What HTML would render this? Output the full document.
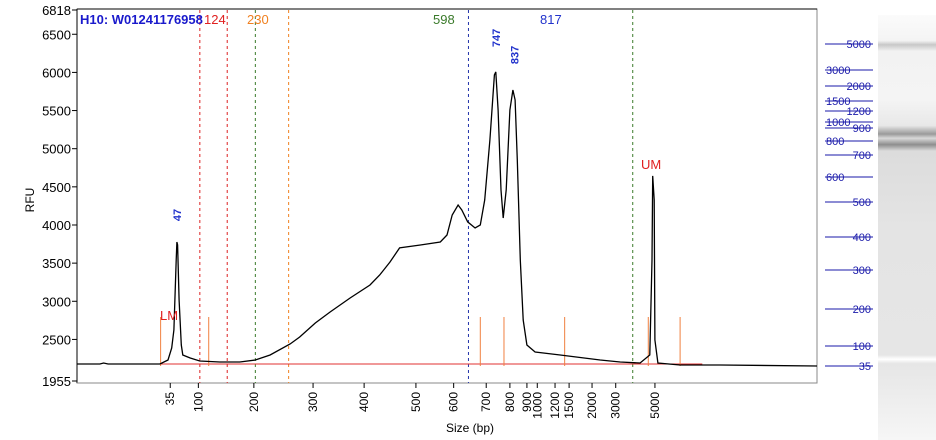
<!DOCTYPE html>
<html><head><meta charset="utf-8"><style>
html,body{margin:0;padding:0;background:#fff;width:936px;height:440px;overflow:hidden}
svg{display:block;font-family:"Liberation Sans",sans-serif}
</style></head><body>
<svg id="c" width="936" height="440">
<defs>
<linearGradient id="gel" x1="0" y1="0" x2="0" y2="1">
<stop offset="0" stop-color="#fbfbfb"/><stop offset="0.06" stop-color="#f4f4f4"/><stop offset="0.07" stop-color="#c8c8c8"/><stop offset="0.085" stop-color="#f2f2f2"/>
<stop offset="0.2" stop-color="#f4f4f4"/><stop offset="0.26" stop-color="#e8e8e8"/><stop offset="0.28" stop-color="#9a9a9a"/><stop offset="0.29" stop-color="#d8d8d8"/><stop offset="0.305" stop-color="#8e8e8e"/><stop offset="0.32" stop-color="#dcdcdc"/>
<stop offset="0.5" stop-color="#e4e4e4"/><stop offset="0.8" stop-color="#e6e6e6"/><stop offset="0.81" stop-color="#ffffff"/><stop offset="0.82" stop-color="#e6e6e6"/><stop offset="1" stop-color="#f6f6f6"/>
</linearGradient></defs>
<rect x="878" y="15" width="58" height="425" fill="url(#gel)"/>
</svg>
<script>
const NS='http://www.w3.org/2000/svg';
const svg=document.getElementById('c');
// data
const migration=[0,3.1,3.6,4.2,11.2,12.3,12.8,13.1,13.4,13.5,13.6,13.8,14.1,14.3,15.3,16.6,19.3,22.0,24.1,26.1,28.8,30.1,32.2,34.2,36.9,39.6,40.9,42.3,43.6,46.4,49.1,50.0,50.7,51.5,52.0,52.8,53.8,54.5,55.1,55.8,56.4,56.6,56.9,57.3,57.6,58.0,58.5,58.9,59.2,59.5,59.9,60.3,60.8,61.9,65.3,70.7,73.4,76.1,77.4,77.7,77.8,78.0,78.1,78.5,81.5,86.9,100];
const rfu=[2178,2178,2191,2178,2178,2230,2388,2624,3541,3777,3738,3017,2427,2296,2257,2217,2204,2204,2230,2296,2440,2532,2715,2860,3043,3214,3345,3515,3699,3738,3777,3869,4131,4262,4197,4040,3961,4000,4328,5115,5967,6006,5508,4459,4092,4459,5508,5770,5639,4852,3541,2755,2427,2335,2296,2230,2204,2191,2296,3541,4643,4328,2493,2191,2165,2165,2152];
const sizeLabels=['35','100','200','300','400','500','600','700','800','900','1000','1200','1500','2000','3000','5000'];
const sizeMig=[12.6,16.4,23.9,31.9,38.8,45.8,50.9,55.3,58.5,60.8,62.2,64.6,66.5,69.6,72.8,78.1];
const yTicks=[6818,6500,6000,5500,5000,4500,4000,3500,3000,2500,1955];
const markerSizes=['5000','3000','2000','1500','1200','1000','900','800','700','600','500','400','300','200','100','35'];
const markerY=[44,70,86,101,111,122,128,141,155,177,202,237,270,309,346,366];
const markerLeft=[0,1,0,1,0,1,0,1,0,1,0,0,0,0,0,0];
const cutMig=[16.6,20.3,24.1,28.6,52.9,75.1];
const cutColors=['#d22','#d22','#3a7a2a','#f08020','#2233aa','#3a7a2a'];
const fragMig=[11.3,17.8,54.5,57.7,65.9,77.2,81.5];
const peakLabels=['47','747','837'];
const peakMig=[13.5,56.6,59.1];
const peakY=[215,38,55];
// axes
const X0=77,X1=817,Y0=10,Y1=381,YMIN=1955,YMAX=6818;
const xs=m=>X0+(X1-X0)*m/100;
const ys=v=>Y1-(v-YMIN)/(YMAX-YMIN)*(Y1-Y0);
function el(t,a,txt){const e=document.createElementNS(NS,t);for(const k in a)e.setAttribute(k,a[k]);if(txt!==undefined)e.textContent=txt;svg.appendChild(e);return e;}
// frame
let e=el('rect',{x:X0,y:9,width:X1-X0,height:374,fill:'none',stroke:'#888'});


e=el('line',{x1:X0,y1:9,x2:X1,y2:9,stroke:'#000'});


e=el('line',{x1:X0,y1:9,x2:X0,y2:383,stroke:'#000'});


e=el('line',{x1:X0,y1:383,x2:X1,y2:383,stroke:'#888'});


yTicks.forEach(v=>{const y=ys(v);
 el('line',{x1:X0-5,y1:y,x2:X0,y2:y,stroke:'#000'});
 e=el('text',{x:X0-6,y:y+5,'text-anchor':'end','font-size':13,fill:'#000'},v);
 
 
});
sizeLabels.forEach((s,i)=>{const x=xs(sizeMig[i]);
 el('line',{x1:x,y1:383,x2:x,y2:388,stroke:'#000'});
 e=el('text',{x:0,y:0,transform:`translate(${x+4},392) rotate(-90)`,'text-anchor':'end','font-size':12,fill:'#000'},s);
 
 
});
e=el('text',{x:470,y:432,'text-anchor':'middle','font-size':12},'Size (bp)');


e=el('text',{x:0,y:0,transform:'translate(34,200) rotate(-90)','text-anchor':'middle','font-size':12},'RFU');


// cut lines
cutMig.forEach((m,i)=>{const x=xs(m);
 e=el('line',{x1:x,y1:10,x2:x,y2:383,stroke:cutColors[i],'stroke-dasharray':'3,3'});
 
 
});
[['124',204,'#e02020'],['230',247,'#f08020'],['598',433,'#3a7a2a'],['817',540,'#2233cc']].forEach(a=>{
 e=el('text',{x:a[1],y:24,'font-size':13,fill:a[2]},a[0]);
 
 
});
e=el('text',{x:80,y:24,'font-size':13,'font-weight':'bold',fill:'#1a1acc'},'H10: W01241176958');


// baseline + fragment ticks
e=el('line',{x1:xs(11),y1:ys(2178),x2:xs(84.5),y2:ys(2178),stroke:'#e03030'});


fragMig.forEach(m=>{const x=xs(m);
 e=el('line',{x1:x,y1:317,x2:x,y2:ys(2178)+2,stroke:'#f08040'});
 
 
});
// trace
const pts=migration.map((m,i)=>xs(m).toFixed(1)+','+ys(rfu[i]).toFixed(1)).join(' ');
e=el('polyline',{points:pts,fill:'none',stroke:'#000','stroke-width':1.3});


peakLabels.forEach((s,i)=>{
 e=el('text',{x:0,y:0,transform:`translate(${xs(peakMig[i])+4},${peakY[i]}) rotate(-90)`,'text-anchor':'middle','font-size':11,'font-weight':'bold',fill:'#2233cc'},s);
 
 
});
e=el('text',{x:160,y:320,'font-size':13,fill:'#e02020'},'LM');


e=el('text',{x:641,y:169,'font-size':13,fill:'#e02020'},'UM');


// right ladder axis
markerSizes.forEach((s,i)=>{const y=markerY[i];
 el('line',{x1:825,y1:y,x2:873,y2:y,stroke:'#1a1aaa'});
 e=el('text',{x:markerLeft[i]?826:871,y:y+4,'text-anchor':markerLeft[i]?'start':'end','font-size':11,fill:'#1a1aaa'},s);
 
 
});
</script>
</body></html>
